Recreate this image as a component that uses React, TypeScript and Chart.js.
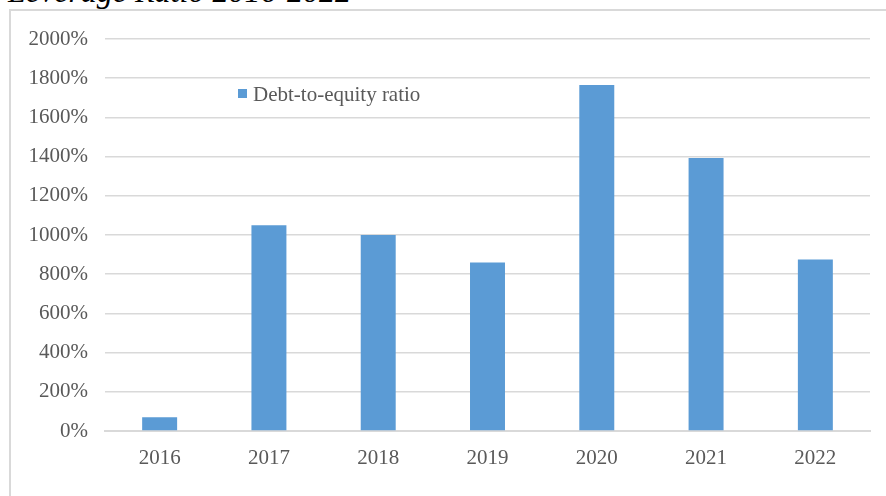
import React, { useEffect, useRef } from "react";
import { Chart, registerables } from "chart.js";

Chart.register(...registerables);

const categories = ["2016", "2017", "2018", "2019", "2020", "2021", "2022"];
const debtToEquity = [70, 1050, 1000, 860, 1765, 1393, 875];
const seriesLabel = "Debt-to-equity ratio";
const titleText = "Leverage Ratio 2016-2022";
const yMin = 0;
const yMax = 2000;
const yStep = 200;

const FONT = "'Liberation Serif', 'Times New Roman', serif";
const TEXT = "#595959";
const GRID = "#d9d9d9";
const BAR = "#5b9bd5";
const FS = 21;

const legendPlugin = {
  id: "innerLegend",
  afterDraw(chart: any) {
    const ctx = chart.ctx;
    const ds = chart.data.datasets[0];
    ctx.save();
    ctx.fillStyle = ds.backgroundColor;
    ctx.fillRect(238, 89, 9, 9);
    ctx.fillStyle = TEXT;
    ctx.font = `${FS}px ${FONT}`;
    ctx.textBaseline = "middle";
    ctx.textAlign = "left";
    ctx.fillText(ds.label, 253, 95);
    ctx.restore();
  },
};

export default function App() {
  const ref = useRef<HTMLCanvasElement | null>(null);
  useEffect(() => {
    if (!ref.current) return;
    const chart = new Chart(ref.current, {
      type: "bar",
      data: {
        labels: categories,
        datasets: [
          {
            label: seriesLabel,
            data: debtToEquity,
            backgroundColor: BAR,
            barPercentage: 0.32,
            categoryPercentage: 1,
          },
        ],
      },
      options: {
        animation: false,
        responsive: false,
        maintainAspectRatio: false,
        layout: { padding: { left: 0, right: 16, top: 39, bottom: 0 } },
        plugins: {
          legend: { display: false },
          tooltip: { enabled: false },
          title: { display: false },
        },
        scales: {
          x: {
            grid: { display: false, drawTicks: false },
            border: { display: true, color: GRID, width: 2 },
            ticks: {
              color: TEXT,
              font: { family: FONT, size: FS },
              padding: 15,
              maxRotation: 0,
            },
            afterFit(scale: any) {
              scale.height = 65;
            },
          },
          y: {
            min: yMin,
            max: yMax,
            grid: { color: GRID, lineWidth: 1.5, drawTicks: false },
            border: { display: false },
            ticks: {
              stepSize: yStep,
              color: TEXT,
              font: { family: FONT, size: FS },
              padding: 17,
              callback: (v: any) => `${v}%`,
            },
            afterFit(scale: any) {
              scale.width = 105;
            },
          },
        },
      },
      plugins: [legendPlugin],
    });
    return () => chart.destroy();
  }, []);

  return (
    <div style={{ position: "absolute", left: 0, top: 0, width: 886, height: 496, overflow: "hidden", background: "#fff" }}>
      <div
        style={{
          position: "absolute",
          left: 9,
          top: 9,
          width: 900,
          height: 520,
          border: `2px solid ${GRID}`,
          boxSizing: "border-box",
        }}
      />
      <div
        style={{
          position: "absolute",
          left: 8,
          top: -27,
          fontFamily: FONT,
          fontStyle: "italic",
          fontSize: 32,
          color: "#000",
          whiteSpace: "nowrap",
          lineHeight: "36px",
        }}
      >
        {titleText}
      </div>
      <canvas ref={ref} width={886} height={496} style={{ position: "absolute", left: 0, top: 0 }} />
    </div>
  );
}
